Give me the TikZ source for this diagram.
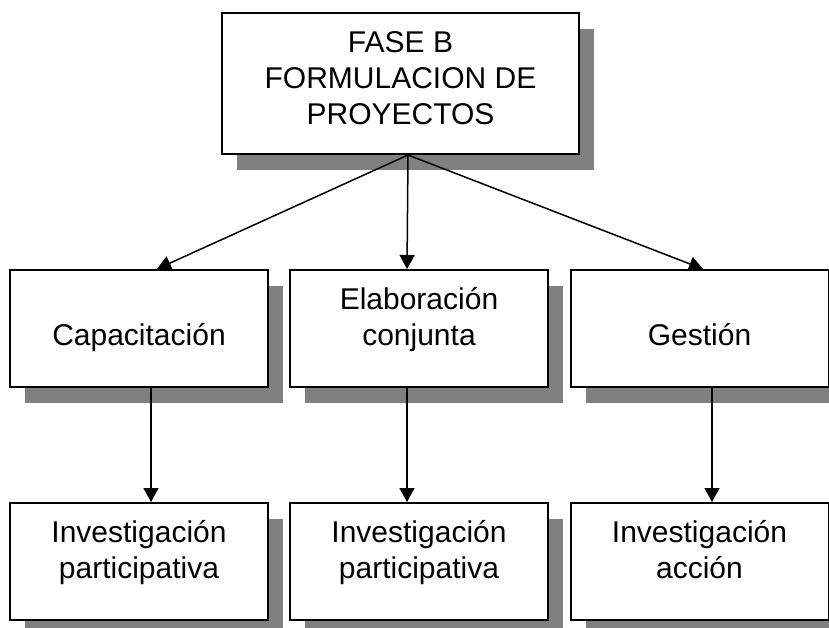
\documentclass[tikz,border=0pt]{standalone}
\usepackage{fontspec}
\setmainfont{Liberation Sans}
\usetikzlibrary{arrows.meta,shadows}

\begin{document}
\begin{tikzpicture}[%
    x=1pt, y=-1pt,                          % pixel-like units, y grows downwards
    >={Triangle[length=14pt,width=15pt]},   % Filled heads as in the original
    ]
% -------------------------------------------------
% Box styles: white boxes with a hard grey shadow
% (text height = distance from the top edge to the last baseline)
\tikzset{
  base/.style={draw, line width=2pt, fill=white, align=center, inner sep=0pt,
    font=\fontsize{30}{36}\selectfont,
    drop shadow={fill=black!50, opacity=1, shadow xshift=15pt, shadow yshift=-16pt}},
  head/.style={base, minimum width=357pt, minimum height=141pt,
    text height=112pt, text depth=29pt},
  proc/.style={base, minimum width=258pt, minimum height=117pt,
    text height=75pt, text depth=42pt},
  % Connector line style
  norm/.style={->, draw, line width=1.5pt}
}
\useasboundingbox (0,0) rectangle (829,628);
% -------------------------------------------------
% Place the nodes
\node [head] (faseb) at (400.5,83.5) {FASE B\\FORMULACION DE\\PROYECTOS};

\node [proc] (cap)  at (139,328.5)   {Capacitación};
\node [proc] (elab) at (419,328.5)   {Elaboración\\conjunta};
\node [proc] (gest) at (699.5,328.5) {Gestión};

\node [proc] (inv1) at (139,561.5)   {Investigación\\participativa};
\node [proc] (inv2) at (419,561.5)   {Investigación\\participativa};
\node [proc] (inv3) at (699.5,561.5) {Investigación\\acción};

% -------------------------------------------------
% Connectors
\draw [norm] ([xshift=7.5pt]faseb.south) -- ([xshift=18pt]cap.north);
\draw [norm] ([xshift=7.5pt]faseb.south) -- ([xshift=-12pt]elab.north);
\draw [norm] ([xshift=7.5pt]faseb.south) -- ([xshift=3.5pt]gest.north);

\draw [norm] ([xshift=12pt]cap.south)   -- ([xshift=12pt]inv1.north);
\draw [norm] ([xshift=-12pt]elab.south) -- ([xshift=-12pt]inv2.north);
\draw [norm] ([xshift=12.5pt]gest.south) -- ([xshift=12.5pt]inv3.north);
% -------------------------------------------------
\end{tikzpicture}
\end{document}
